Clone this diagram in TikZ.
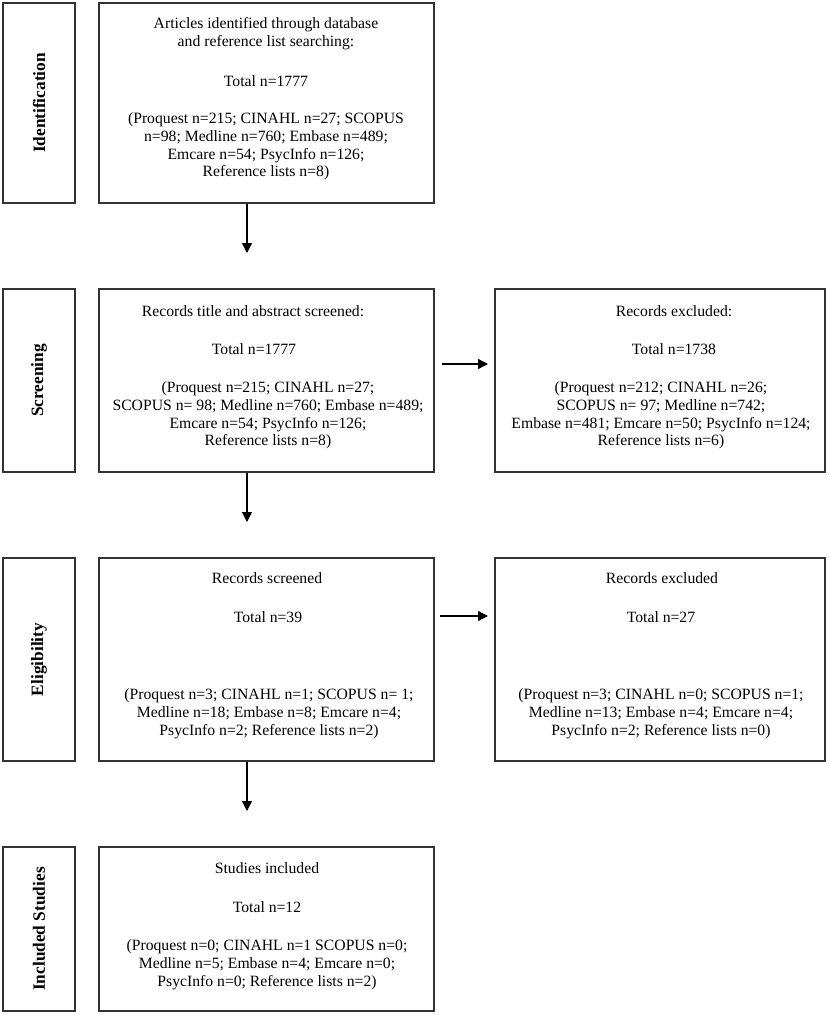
\documentclass[tikz,border=0pt]{standalone}
\usepackage{fontspec}
\setmainfont{Liberation Serif}
\usetikzlibrary{arrows.meta}
\begin{document}
\begin{tikzpicture}[x=1pt,y=-1pt,
  box/.style={draw=black!80, line width=1.2pt, inner sep=0pt, fill=none},
  txt/.style={inner sep=0pt, align=center, font=\fontsize{15.7}{17.8}\selectfont},
  side/.style={inner sep=0pt, rotate=90, font=\fontsize{17.3}{20}\selectfont\bfseries},
  arr/.style={line width=1.3pt, -{Triangle[width=10pt,length=10pt]}}]
\useasboundingbox (0,0) rectangle (829,1015);
% side boxes
\node[box, minimum width=72pt, minimum height=200pt] (s1) at (39,103) {};
\node[box, minimum width=72pt, minimum height=183pt] (s2) at (39,380.5) {};
\node[box, minimum width=72pt, minimum height=203pt] (s3) at (39,659.5) {};
\node[box, minimum width=72pt, minimum height=164pt] (s4) at (39,929) {};
\node[side] (l1) at (s1) {Identification};
\node[side] (l2) at (s2) {Screening};
\node[side] (l3) at (s3) {Eligibility};
\node[side] (l4) at (s4) {Included Studies};
% main boxes
\node[box, minimum width=335pt, minimum height=200pt] (m1) at (266.5,103) {};
\node[box, minimum width=335pt, minimum height=183pt] (m2) at (266.5,380.5) {};
\node[box, minimum width=335pt, minimum height=203pt] (m3) at (266.5,659.5) {};
\node[box, minimum width=335pt, minimum height=164pt] (m4) at (266.5,929) {};
% right boxes
\node[box, minimum width=330pt, minimum height=183pt] (r2) at (660,380.5) {};
\node[box, minimum width=330pt, minimum height=203pt] (r3) at (660,659.5) {};
% texts row 1
\node[txt] (m1a) at (266,34) {Articles identified through database\\and reference list searching:};
\node[txt] (m1b) at (266,81) {Total n=1777};
\node[txt] (m1c) at (266,146.5) {(Proquest n=215; CINAHL n=27; SCOPUS\\n=98; Medline n=760; Embase n=489;\\Emcare n=54; PsycInfo n=126;\\Reference lists n=8)};
% row 2
\node[txt] (m2a) at (253,311) {Records title and abstract screened:};
\node[txt] (m2b) at (254,349) {Total n=1777};
\node[txt] (m2c) at (268,415.5) {(Proquest n=215; CINAHL n=27;\\SCOPUS n= 98; Medline n=760; Embase n=489;\\Emcare n=54; PsycInfo n=126;\\Reference lists n=8)};
\node[txt] (r2a) at (674,311) {Records excluded:};
\node[txt] (r2b) at (674,349) {Total n=1738};
\node[txt] (r2c) at (661,415.5) {(Proquest n=212; CINAHL n=26;\\SCOPUS n= 97; Medline n=742;\\Embase n=481; Emcare n=50; PsycInfo n=124;\\Reference lists n=6)};
% row 3
\node[txt] (m3a) at (267,578) {Records screened};
\node[txt] (m3b) at (268,617) {Total n=39};
\node[txt] (m3c) at (269,714) {(Proquest n=3; CINAHL n=1; SCOPUS n= 1;\\Medline n=18; Embase n=8; Emcare n=4;\\PsycInfo n=2; Reference lists n=2)};
\node[txt] (r3a) at (662,578) {Records excluded};
\node[txt] (r3b) at (661,617) {Total n=27};
\node[txt] (r3c) at (661,714) {(Proquest n=3; CINAHL n=0; SCOPUS n=1;\\Medline n=13; Embase n=4; Emcare n=4;\\PsycInfo n=2; Reference lists n=0)};
% row 4
\node[txt] (m4a) at (267,868) {Studies included};
\node[txt] (m4b) at (267,907) {Total n=12};
\node[txt] (m4c) at (267,964.5) {(Proquest n=0; CINAHL n=1 SCOPUS n=0;\\Medline n=5; Embase n=4; Emcare n=0;\\PsycInfo n=0; Reference lists n=2)};
% arrows
\coordinate (t1) at (247,253);
\coordinate (t2) at (247,522);
\coordinate (t3) at (247,811);
\coordinate (h2a) at (442,364);
\coordinate (h2b) at (488,364);
\coordinate (h3a) at (440,616);
\coordinate (h3b) at (488,616);
\draw[arr] (m1.south -| t1) -- (t1);
\draw[arr] (m2.south -| t2) -- (t2);
\draw[arr] (m3.south -| t3) -- (t3);
\draw[arr] (h2a) -- (h2b);
\draw[arr] (h3a) -- (h3b);
\end{tikzpicture}
\end{document}
